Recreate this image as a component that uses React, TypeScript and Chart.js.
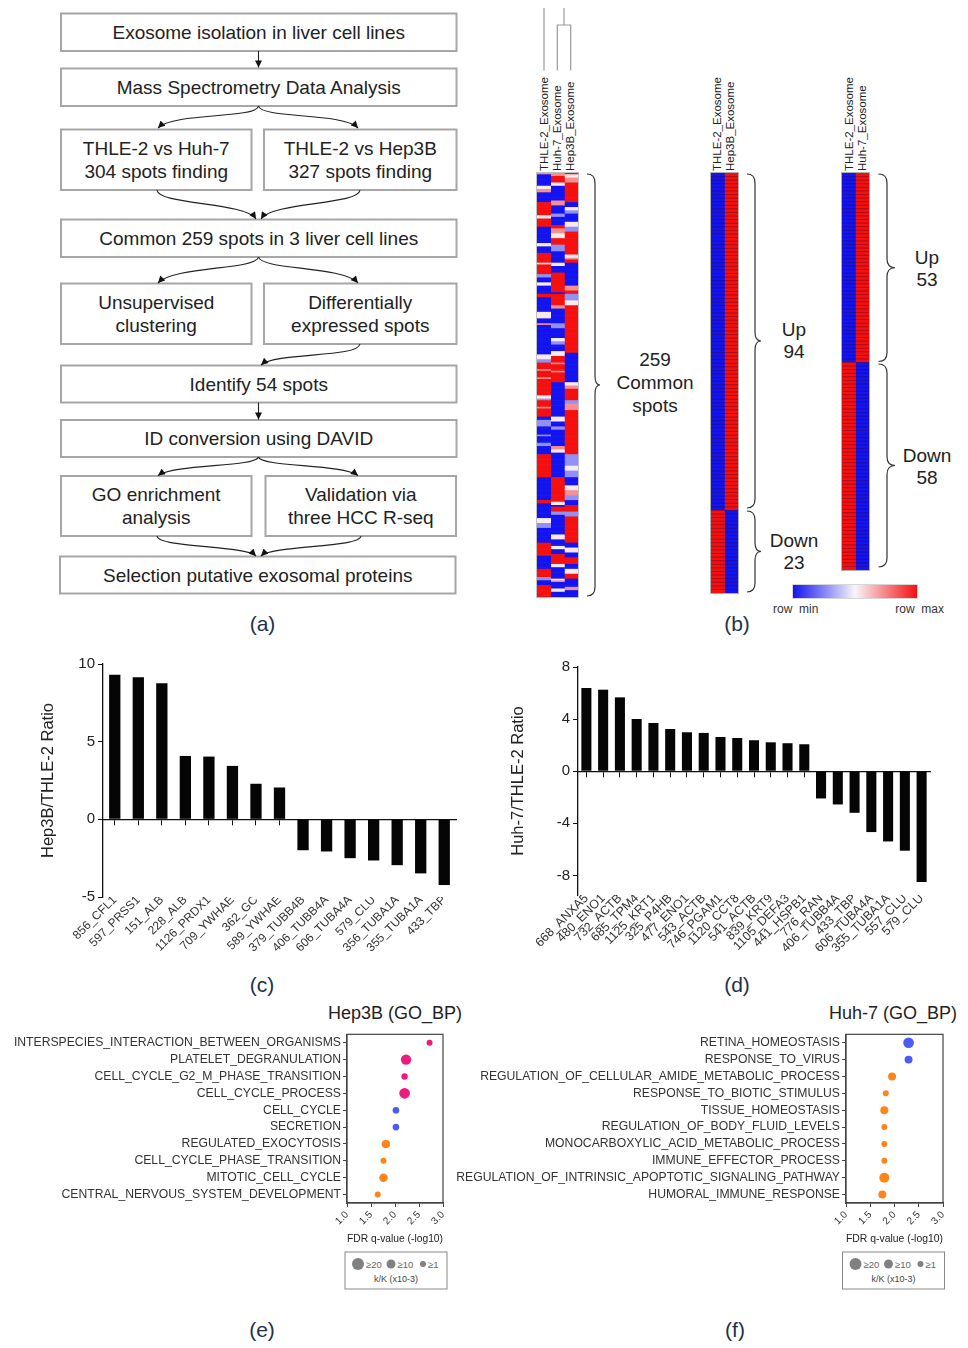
import React, { useEffect, useRef } from 'react';
import { Chart, registerables } from 'chart.js';

Chart.register(...registerables);

const FONT = "'Liberation Sans', Arial, Helvetica, sans-serif";

// ---------------- (c) Hep3B / THLE-2 ratio ----------------
const hepLabels = ['856_CFL1', '597_PRSS1', '151_ALB', '228_ALB', '1126_PRDX1', '709_YWHAE', '362_GC', '589_YWHAE', '379_TUBB4B', '406_TUBB4A', '606_TUBA4A', '579_CLU', '356_TUBA1A', '355_TUBA1A', '433_TBP'];
const hepRatios = [9.31, 9.14, 8.76, 4.08, 4.04, 3.44, 2.29, 2.05, -1.99, -2.07, -2.5, -2.65, -2.95, -3.48, -4.23];
const hepTicks = [-5, 0, 5, 10];

// ---------------- (d) Huh-7 / THLE-2 ratio ----------------
const huhLabels = ['668_ANXA5', '480_ENO1', '732_ACTB', '685_TPM4', '1125_KRT1', '325_P4HB', '477_ENO1', '543_ACTB', '746_PGAM1', '1120_CCT8', '541_ACTB', '839_KRT9', '1105_DEFA3', '441_HSPB1', '776_RAN', '406_TUBB4A', '433_TBP', '606_TUBA4A', '355_TUBA1A', '557_CLU', '579_CLU'];
const huhRatios = [6.39, 6.26, 5.67, 4.01, 3.7, 3.24, 2.99, 2.94, 2.63, 2.55, 2.38, 2.22, 2.15, 2.07, -2.09, -2.55, -3.19, -4.67, -5.39, -6.1, -8.5];
const huhTicks = [-8, -4, 0, 4, 8];

// ---------------- (b) heatmaps ----------------
const commonColumns = ['THLE-2_Exosome', 'Huh-7_Exosome', 'Hep3B_Exosome'];
// run-length reading of the 259 rows (R red, r light red, w white, b light blue, B blue)
const commonRunsTHLE2 = 'r1 B7 w2 r2 B6 R8 w2 R5 B10 w2 B4 R6 w1 R6 b2 B3 w2 B5 R2 B9 w4 B3 r1 B18 w3 b2 R4 r1 R4 r1 R2 ' +
  'R8 w2 b1 R4 r1 R5 B2 b4 B5 b1 B4 b2 B5 R14 B14 R2 B9 w3 b3 B9 R8 B8 R5 b2 B3 R7';
const commonRunsHuh7 = 'r2 R4 w2 B9 r3 B5 b2 B5 R2 r3 w3 R4 b4 B7 w2 B4 R12 B1 R7 r2 B9 b3 B6 w2 b2 B4 w3 R4 r1 R4 r1 R6 ' +
  'B21 w3 B3 b2 B10 r2 w2 B15 R15 w2 B1 R3 b2 B12 w3 B4 w2 B3 R6 w2 B7 w1 r1 B4 w2 B3';
const commonRunsHep3B = 'R1 w2 r1 r2 R12 B3 w2 b2 B5 w3 b3 R14 w2 r1 R2 B14 r3 R2 b4 w3 R29 B18 ' +
  'w2 r2 R7 b2 r4 R27 b7 w3 b4 B5 w3 r3 b3 B3 R4 b3 R16 B3 w3 B3 R4 B3 w3 R3 B2 B3 r2 B4';
const commonRowCount = 259;

const hepDiffColumns = ['THLE-2_Exosome', 'Hep3B_Exosome'];
const hepUpCount = 94;
const hepDownCount = 23;
const huhDiffColumns = ['THLE-2_Exosome', 'Huh-7_Exosome'];
const huhUpCount = 53;
const huhDownCount = 58;

// ---------------- (e) Hep3B GO_BP ----------------
const hepTerms = ['INTERSPECIES_INTERACTION_BETWEEN_ORGANISMS', 'PLATELET_DEGRANULATION', 'CELL_CYCLE_G2_M_PHASE_TRANSITION', 'CELL_CYCLE_PROCESS', 'CELL_CYCLE', 'SECRETION', 'REGULATED_EXOCYTOSIS', 'CELL_CYCLE_PHASE_TRANSITION', 'MITOTIC_CELL_CYCLE', 'CENTRAL_NERVOUS_SYSTEM_DEVELOPMENT'];
const hepFdr = [2.72, 2.23, 2.2, 2.2, 2.02, 2.02, 1.81, 1.76, 1.76, 1.64];
const hepKK = [4, 24, 5, 26, 6, 6, 14, 4, 14, 4];
const hepGroup = ['pink', 'pink', 'pink', 'pink', 'blue', 'blue', 'orange', 'orange', 'orange', 'orange'];

// ---------------- (f) Huh-7 GO_BP ----------------
const huhTerms = ['RETINA_HOMEOSTASIS', 'RESPONSE_TO_VIRUS', 'REGULATION_OF_CELLULAR_AMIDE_METABOLIC_PROCESS', 'RESPONSE_TO_BIOTIC_STIMULUS', 'TISSUE_HOMEOSTASIS', 'REGULATION_OF_BODY_FLUID_LEVELS', 'MONOCARBOXYLIC_ACID_METABOLIC_PROCESS', 'IMMUNE_EFFECTOR_PROCESS', 'REGULATION_OF_INTRINSIC_APOPTOTIC_SIGNALING_PATHWAY', 'HUMORAL_IMMUNE_RESPONSE'];
const huhFdr = [2.29, 2.29, 1.95, 1.82, 1.79, 1.79, 1.79, 1.79, 1.79, 1.75];
const huhKK = [26, 11, 11, 4, 11, 4, 4, 4, 22, 11];
const huhGroup = ['blue', 'blue', 'orange', 'orange', 'orange', 'orange', 'orange', 'orange', 'orange', 'orange'];

const goTicks = [1.0, 1.5, 2.0, 2.5, 3.0];
const sizeLegend = ['≥20', '≥10', '≥1'];

// ---------------- (a) flowchart text ----------------
const flowText = [
  ['Exosome isolation in liver cell lines'],
  ['Mass Spectrometry Data Analysis'],
  ['THLE-2 vs Huh-7', '304 spots finding'],
  ['THLE-2 vs Hep3B', '327 spots finding'],
  ['Common 259 spots in 3 liver cell lines'],
  ['Unsupervised', 'clustering'],
  ['Differentially', 'expressed spots'],
  ['Identify 54 spots'],
  ['ID conversion using DAVID'],
  ['GO enrichment', 'analysis'],
  ['Validation via', 'three HCC R-seq'],
  ['Selection putative exosomal proteins'],
];

// ================= styling / layout =================
const GO_COLORS: Record<string, string> = { pink: '#ec1b7c', blue: '#4b5cf3', orange: '#ff8419' };
const LEVEL: Record<string, number> = { R: 1, r: 0.45, w: 0.05, b: -0.45, B: -1 };

function expandRuns(s: string, n: number): number[] {
  const out: number[] = [];
  s.trim().split(/\s+/).forEach((tok) => {
    const v = LEVEL[tok[0]];
    const c = parseInt(tok.slice(1), 10);
    for (let i = 0; i < c; i++) out.push(v);
  });
  while (out.length < n) out.push(out[out.length - 1]);
  return out.slice(0, n);
}

function heatColor(v: number): string {
  const W = [248, 245, 250];
  const B = [20, 20, 240];
  const R = [245, 16, 16];
  const t = Math.abs(v);
  const E = v < 0 ? B : R;
  const c = W.map((w, i) => Math.round(w + (E[i] - w) * t));
  return `rgb(${c[0]},${c[1]},${c[2]})`;
}

function diffMatrix(up: number, down: number): number[][] {
  const base = [...Array(up).fill(-1), ...Array(down).fill(1)];
  return [base, base.map((v) => -v)];
}

function bubbleRadius(k: number): number {
  return 1.5 + 0.75 * Math.sqrt(k);
}

// thin dark separators between heatmap rows, placed with the chart's own y scale
const rowLinesPlugin = {
  id: 'rowLines',
  afterDatasetsDraw(chart: any) {
    const y = chart.scales.y;
    const n = chart.data.labels.length;
    const { ctx, chartArea: a } = chart;
    ctx.save();
    ctx.strokeStyle = 'rgba(35,0,35,0.5)';
    ctx.lineWidth = 0.7;
    ctx.beginPath();
    for (let i = 1; i < n; i++) {
      const py = (y.getPixelForValue(i - 1) + y.getPixelForValue(i)) / 2;
      ctx.moveTo(a.left, py);
      ctx.lineTo(a.right, py);
    }
    ctx.stroke();
    ctx.restore();
  },
};

function makeHeat(canvas: HTMLCanvasElement, matrix: number[][], grid: boolean) {
  return new Chart(canvas, {
    type: 'bar',
    data: {
      labels: matrix[0].map((_, i) => String(i)),
      datasets: matrix.map((col) => ({
        data: col.map(() => 1),
        backgroundColor: col.map(heatColor),
        borderWidth: 0,
        barPercentage: 1,
        categoryPercentage: 1,
      })),
    },
    plugins: grid ? [rowLinesPlugin] : [],
    options: {
      responsive: false,
      animation: false,
      indexAxis: 'y',
      events: [],
      layout: { padding: 0 },
      plugins: { legend: { display: false }, tooltip: { enabled: false } },
      scales: {
        x: { stacked: true, min: 0, max: matrix.length, display: false },
        y: { stacked: true, display: false },
      },
    },
  } as any);
}

function makeRatioBar(canvas: HTMLCanvasElement, cfg: {
  labels: string[]; values: number[]; ticks: number[]; min: number; max: number; title: string;
  padding: any; yWidth: number; xHeight: number; barFrac: number; labelSize: number;
}) {
  return new Chart(canvas, {
    type: 'bar',
    data: {
      labels: cfg.labels,
      datasets: [{ data: cfg.values, backgroundColor: '#050505', borderWidth: 0, barPercentage: cfg.barFrac, categoryPercentage: 1 }],
    },
    options: {
      responsive: false,
      animation: false,
      events: [],
      layout: { padding: cfg.padding },
      plugins: { legend: { display: false }, tooltip: { enabled: false } },
      scales: {
        x: {
          type: 'category',
          offset: true,
          grid: { display: false, drawTicks: false },
          border: { display: false },
          ticks: { autoSkip: false, minRotation: 45, maxRotation: 45, color: '#333', font: { size: cfg.labelSize }, padding: -4 },
          afterFit: (s: any) => { s.height = cfg.xHeight; },
        },
        xz: {
          type: 'category',
          axis: 'x',
          position: { y: 0 },
          offset: true,
          grid: { display: true, offset: false, drawOnChartArea: false, drawTicks: true, tickLength: 5, color: '#111', lineWidth: 1 },
          border: { display: true, color: '#111', width: 1.3 },
          ticks: { display: false },
        },
        y: {
          type: 'linear',
          min: cfg.min,
          max: cfg.max,
          afterBuildTicks: (s: any) => { s.ticks = cfg.ticks.map((v) => ({ value: v })); },
          ticks: { color: '#222', font: { size: 15 }, padding: 3 },
          grid: { display: true, drawOnChartArea: false, tickLength: 5, color: '#111' },
          border: { color: '#111', width: 1.3 },
          title: { display: true, text: cfg.title, color: '#222', font: { size: 16.5 }, padding: { top: 4, bottom: 4 } },
          afterFit: (s: any) => { s.width = cfg.yWidth; },
        },
      },
    },
  } as any);
}

const framePlugin = {
  id: 'frame',
  afterDraw(chart: any) {
    const { ctx, chartArea: a } = chart;
    ctx.save();
    ctx.strokeStyle = '#444';
    ctx.lineWidth = 1.2;
    ctx.strokeRect(a.left, a.top, a.right - a.left, a.bottom - a.top);
    ctx.restore();
  },
};

function makeGo(canvas: HTMLCanvasElement, terms: string[], fdr: number[], kk: number[], groups: string[], yWidth: number) {
  return new Chart(canvas, {
    type: 'bubble',
    data: {
      datasets: [{
        data: terms.map((t, i) => ({ x: fdr[i], y: t, r: bubbleRadius(kk[i]) })),
        backgroundColor: groups.map((g) => GO_COLORS[g]),
        borderWidth: 0,
      }],
    },
    plugins: [framePlugin],
    options: {
      responsive: false,
      animation: false,
      events: [],
      layout: { padding: { left: 0, right: 17, top: 5, bottom: 0 } },
      plugins: { legend: { display: false }, tooltip: { enabled: false } },
      scales: {
        x: {
          type: 'linear',
          min: 1,
          max: 3,
          afterBuildTicks: (s: any) => { s.ticks = goTicks.map((v) => ({ value: v })); },
          ticks: { callback: (v: any) => Number(v).toFixed(1), minRotation: 45, maxRotation: 45, color: '#333', font: { size: 10 }, padding: 2 },
          grid: { display: true, drawOnChartArea: false, tickLength: 4, color: '#444' },
          border: { color: '#444', width: 1.2 },
          title: { display: true, text: 'FDR q-value (-log10)', color: '#222', font: { size: 10.5 }, padding: { top: 4, bottom: 4 } },
          afterFit: (s: any) => { s.height = 46; },
        },
        y: {
          type: 'category',
          labels: terms,
          offset: true,
          grid: { display: true, offset: false, drawOnChartArea: false, tickLength: 4, color: '#444' },
          border: { color: '#444', width: 1.2 },
          ticks: { autoSkip: false, color: '#333', font: { size: 12.2 }, padding: 2 },
          afterFit: (s: any) => { s.width = yWidth; },
        },
      },
    },
  } as any);
}

// flowchart geometry
const FLOW_BOXES = [
  { x: 61, y: 13.5, w: 395.5, h: 37.5 },
  { x: 61, y: 68.5, w: 395.5, h: 37.5 },
  { x: 61, y: 129.5, w: 190.5, h: 60.5 },
  { x: 264, y: 129.5, w: 192.5, h: 60.5 },
  { x: 61, y: 219.5, w: 395.5, h: 37.5 },
  { x: 61, y: 283.5, w: 190.5, h: 60.5 },
  { x: 264, y: 283.5, w: 192.5, h: 60.5 },
  { x: 61, y: 365.5, w: 395.5, h: 37 },
  { x: 61, y: 420, w: 395.5, h: 37 },
  { x: 61, y: 476, w: 190.5, h: 60 },
  { x: 265.5, y: 476, w: 190.5, h: 60 },
  { x: 60, y: 556.5, w: 395.5, h: 37 },
];
const FLOW_ARROWS = [
  'M258.5,51 L258.5,67.5',
  'M258.5,106 C256,119 174,112 158,128',
  'M258.5,106 C261,119 343,112 358,128',
  'M157,190 C158,205 245,202 256,219',
  'M360,190 C359,205 272,202 261,219',
  'M258.5,257 C256,270 174,266 158,283',
  'M258.5,257 C261,270 343,266 358,283',
  'M360,344 C358,358 276,352 261,365',
  'M258.5,402.5 L258.5,419.5',
  'M258.5,457 C256,467 174,464 158,475.5',
  'M258.5,457 C261,467 343,464 358,475.5',
  'M157,536 C158,548 245,545 256,556',
  'M361,536 C360,548 272,545 261,556',
];

function bracePath(x0: number, xv: number, xt: number, y1: number, y2: number): string {
  const ym = (y1 + y2) / 2;
  const r = Math.min(9, (y2 - y1) / 5);
  return `M${x0},${y1} Q${xv},${y1} ${xv},${y1 + r} L${xv},${ym - r} Q${xv},${ym} ${xt},${ym} ` +
    `Q${xv},${ym} ${xv},${ym + r} L${xv},${y2 - r} Q${xv},${y2} ${x0},${y2}`;
}

function ColLabel({ text, cx, bottom }: { text: string; cx: number; bottom: number }) {
  return (
    <div style={{ position: 'absolute', left: cx - 6.5, top: bottom, width: 0, height: 0 }}>
      <div style={{ position: 'absolute', left: 0, top: 0, transform: 'rotate(-90deg)', transformOrigin: '0 0', whiteSpace: 'nowrap', fontSize: 11.5, lineHeight: '13px', color: '#222', fontFamily: FONT }}>{text}</div>
    </div>
  );
}

function SizeLegend({ x, y }: { x: number; y: number }) {
  const rs = [6, 4.5, 3];
  const cxs = [13, 46, 78];
  return (
    <g transform={`translate(${x},${y})`}>
      <rect x={0} y={0} width={102} height={37} fill="#fff" stroke="#888" strokeWidth={1} />
      {sizeLegend.map((t, i) => (
        <g key={t}>
          <circle cx={cxs[i]} cy={12} r={rs[i]} fill="#808080" />
          <text x={cxs[i] + rs[i] + 2} y={12} dominantBaseline="central" fontSize={9.5} fill="#666" fontFamily={FONT}>{t}</text>
        </g>
      ))}
      <text x={51} y={26.5} textAnchor="middle" dominantBaseline="central" fontSize={9} fill="#444" fontFamily={FONT}>k/K (x10-3)</text>
    </g>
  );
}

export default function App() {
  const heat1 = useRef<HTMLCanvasElement>(null);
  const heat2 = useRef<HTMLCanvasElement>(null);
  const heat3 = useRef<HTMLCanvasElement>(null);
  const barC = useRef<HTMLCanvasElement>(null);
  const barD = useRef<HTMLCanvasElement>(null);
  const goE = useRef<HTMLCanvasElement>(null);
  const goF = useRef<HTMLCanvasElement>(null);

  useEffect(() => {
    Chart.defaults.font.family = FONT;
    Chart.defaults.color = '#333';
    const charts: Chart[] = [];
    const commonMatrix = [commonRunsTHLE2, commonRunsHuh7, commonRunsHep3B].map((s) => expandRuns(s, commonRowCount));
    charts.push(makeHeat(heat1.current!, commonMatrix, false));
    charts.push(makeHeat(heat2.current!, diffMatrix(hepUpCount, hepDownCount), true));
    charts.push(makeHeat(heat3.current!, diffMatrix(huhUpCount, huhDownCount), true));
    charts.push(makeRatioBar(barC.current!, {
      labels: hepLabels, values: hepRatios, ticks: hepTicks, min: -5, max: 10, title: 'Hep3B/THLE-2 Ratio',
      padding: { left: 5, right: 10, top: 11, bottom: 0 }, yWidth: 68, xHeight: 85, barFrac: 0.48, labelSize: 12,
    }));
    charts.push(makeRatioBar(barD.current!, {
      labels: huhLabels, values: huhRatios, ticks: huhTicks, min: -9.5, max: 8, title: 'Huh-7/THLE-2 Ratio',
      padding: { left: 5, right: 15, top: 12, bottom: 0 }, yWidth: 73, xHeight: 95, barFrac: 0.6, labelSize: 12.5,
    }));
    charts.push(makeGo(goE.current!, hepTerms, hepFdr, hepKK, hepGroup, 347));
    charts.push(makeGo(goF.current!, huhTerms, huhFdr, huhKK, huhGroup, 389));
    return () => { charts.forEach((c) => c.destroy()); };
  }, []);

  const cv = (left: number, top: number, w: number, h: number): React.CSSProperties => ({ position: 'absolute', left, top, width: w, height: h });

  const panelLabels: [string, number, number][] = [
    ['(a)', 262.5, 623.5], ['(b)', 737, 623.5], ['(c)', 262, 984.5], ['(d)', 737, 984.5], ['(e)', 262, 1329], ['(f)', 735, 1329],
  ];

  return (
    <div style={{ position: 'absolute', left: 0, top: 0, width: 968, height: 1348, background: '#fff', overflow: 'hidden', fontFamily: FONT }}>
      <svg width={968} height={1348} style={{ position: 'absolute', left: 0, top: 0 }}>
        <defs>
          <marker id="ah" viewBox="0 0 10 10" refX="10" refY="5" markerWidth="8" markerHeight="7" markerUnits="userSpaceOnUse" orient="auto">
            <path d="M0,0 L10,5 L0,10 z" fill="#111" />
          </marker>
        </defs>
        {/* (a) flowchart */}
        {FLOW_BOXES.map((b, i) => {
          const lines = flowText[i];
          const cx = b.x + b.w / 2;
          const cy = b.y + b.h / 2;
          return (
            <g key={i}>
              <rect x={b.x} y={b.y} width={b.w} height={b.h} fill="#fff" stroke="#a6a6a6" strokeWidth={2} />
              {lines.map((t, j) => (
                <text key={j} x={cx} y={cy + (j - (lines.length - 1) / 2) * 23.4} textAnchor="middle" dominantBaseline="central" fontSize={19} fill="#222" fontFamily={FONT}>{t}</text>
              ))}
            </g>
          );
        })}
        {FLOW_ARROWS.map((d, i) => (
          <path key={i} d={d} fill="none" stroke="#222" strokeWidth={1.1} markerEnd="url(#ah)" />
        ))}

        {/* (b) dendrogram */}
        <g stroke="#9a9a9a" strokeWidth={1.2} fill="none">
          <path d="M544,8 L544,70.5" />
          <path d="M557.3,70.5 L557.3,25 L570.7,25 L570.7,70.5" />
          <path d="M564,25 L564,8" />
        </g>
        <rect x={536.5} y={172.5} width={42} height={425} fill="none" stroke="#c0c0c0" strokeWidth={1} />
        <rect x={710.5} y={172.5} width={28} height={421} fill="none" stroke="#b0b0b0" strokeWidth={1} />
        <rect x={841.5} y={172.5} width={28} height={398} fill="none" stroke="#b0b0b0" strokeWidth={1} />
        {/* braces */}
        <g stroke="#333" strokeWidth={1.2} fill="none">
          <path d={bracePath(587, 595, 600, 174, 596)} />
          <path d={bracePath(747, 755, 761, 174, 508)} />
          <path d={bracePath(747, 755, 761, 511, 592)} />
          <path d={bracePath(878.5, 887, 895, 174, 361.5)} />
          <path d={bracePath(878.5, 887, 895, 364, 567)} />
        </g>
        <g fontFamily={FONT} fontSize={19} fill="#222" textAnchor="middle" dominantBaseline="central">
          <text x={655} y={359}>259</text>
          <text x={655} y={382.5}>Common</text>
          <text x={655} y={405}>spots</text>
          <text x={794} y={329}>Up</text>
          <text x={794} y={351.5}>94</text>
          <text x={794} y={540}>Down</text>
          <text x={794} y={562}>23</text>
          <text x={927} y={257}>Up</text>
          <text x={927} y={279.5}>53</text>
          <text x={927} y={455}>Down</text>
          <text x={927} y={477}>58</text>
        </g>
        <text x={773} y={608.5} dominantBaseline="central" fontSize={12} fill="#333" fontFamily={FONT} style={{ whiteSpace: 'pre' }}>{'row  min'}</text>
        <text x={944} y={608.5} textAnchor="end" dominantBaseline="central" fontSize={12} fill="#333" fontFamily={FONT} style={{ whiteSpace: 'pre' }}>{'row  max'}</text>

        {/* GO titles */}
        <text x={462} y={1012.5} textAnchor="end" dominantBaseline="central" fontSize={18} fill="#222" fontFamily={FONT}>Hep3B (GO_BP)</text>
        <text x={957} y={1012.5} textAnchor="end" dominantBaseline="central" fontSize={18} fill="#222" fontFamily={FONT}>Huh-7 (GO_BP)</text>
        <SizeLegend x={345} y={1252} />
        <SizeLegend x={842.5} y={1252} />

        {panelLabels.map(([t, x, y]) => (
          <text key={t} x={x} y={y} textAnchor="middle" dominantBaseline="central" fontSize={21} fill="#22304a" fontFamily={FONT}>{t}</text>
        ))}
      </svg>

      {/* colour bar */}
      <div style={{ position: 'absolute', left: 793, top: 585, width: 124, height: 12.5, background: 'linear-gradient(to right, rgb(20,20,240), rgb(248,245,250) 50%, rgb(245,16,16))', boxShadow: '0 0 0 0.6px #bbb' }} />

      {/* column labels */}
      {commonColumns.map((t, i) => <ColLabel key={'c' + i} text={t} cx={544 + i * 13.4} bottom={170.5} />)}
      {hepDiffColumns.map((t, i) => <ColLabel key={'h' + i} text={t} cx={717.5 + i * 13.4} bottom={170.5} />)}
      {huhDiffColumns.map((t, i) => <ColLabel key={'u' + i} text={t} cx={849 + i * 13.4} bottom={170.5} />)}

      <canvas ref={heat1} width={41} height={424} style={cv(537, 173, 41, 424)} />
      <canvas ref={heat2} width={27} height={420} style={cv(711, 173, 27, 420)} />
      <canvas ref={heat3} width={27} height={397} style={cv(842, 173, 27, 397)} />
      <canvas ref={barC} width={436} height={330} style={cv(30, 652, 436, 330)} />
      <canvas ref={barD} width={445} height={335} style={cv(500, 655, 445, 335)} />
      <canvas ref={goE} width={460} height={224} style={cv(0, 1025, 460, 224)} />
      <canvas ref={goF} width={503} height={224} style={cv(457, 1025, 503, 224)} />
    </div>
  );
}
